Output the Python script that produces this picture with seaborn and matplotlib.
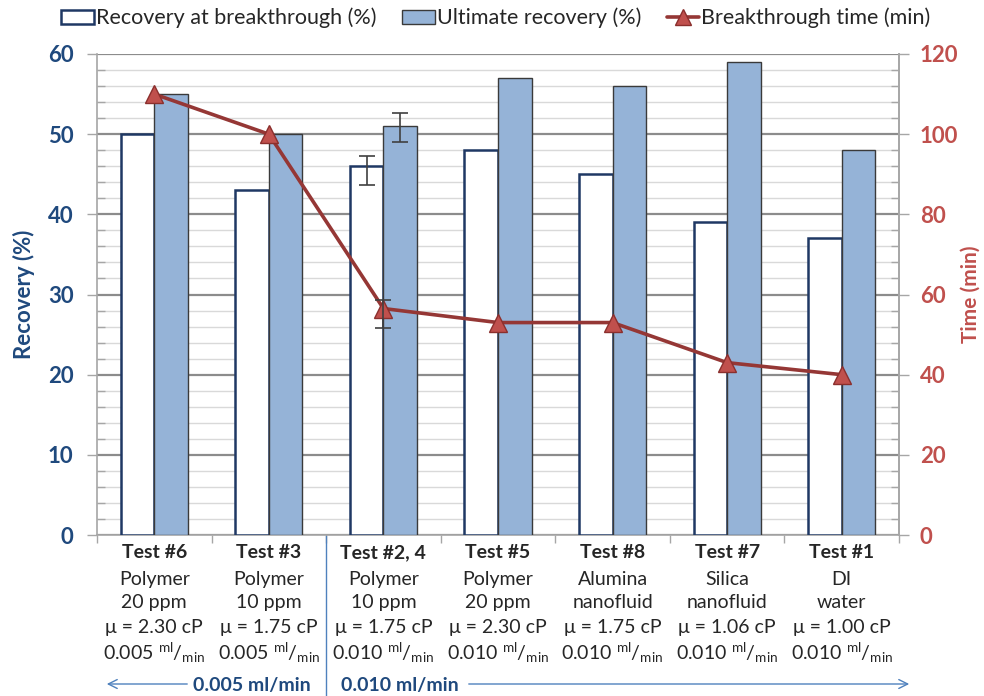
import numpy as np
import pandas as pd
import matplotlib
matplotlib.use("Agg")
import matplotlib.pyplot as plt
from matplotlib.patches import Patch, FancyArrowPatch
from matplotlib.lines import Line2D
from matplotlib.ticker import MultipleLocator
import seaborn as sns

# ---------------- data ----------------
tests = ["Test #6", "Test #3", "Test #2, 4", "Test #5", "Test #8", "Test #7", "Test #1"]
fluid = ["Polymer", "Polymer", "Polymer", "Polymer", "Alumina", "Silica", "DI"]
detail = ["20 ppm", "10 ppm", "10 ppm", "20 ppm", "nanofluid", "nanofluid", "water"]
viscosity = ["2.30", "1.75", "1.75", "2.30", "1.75", "1.06", "1.00"]
rates = ["0.005", "0.005", "0.010", "0.010", "0.010", "0.010", "0.010"]

recovery_bt = [50, 43, 46, 48, 45, 39, 37]
recovery_ult = [55, 50, 51, 57, 56, 59, 48]
bt_time = [110, 100, 56.5, 53, 53, 43, 40]

# error bars (only Test #2, 4)
err_index = 2
bt_err = [2.4, 1.3]      # lower, upper
ult_err = [2.0, 1.6]
time_err = [4.8, 2.1]

series_names = ["Recovery at breakthrough (%)", "Ultimate recovery (%)", "Breakthrough time (min)"]

# ---------------- style ----------------
sns.set_theme(style="white")
plt.rcParams["font.family"] = ["Lato", "DejaVu Sans"]
plt.rcParams["mathtext.fontset"] = "custom"
plt.rcParams["mathtext.rm"] = "Lato"
plt.rcParams["mathtext.it"] = "Lato"

navy = "#1f497d"
red = "#c0504d"
line_red = "#953735"
blue_fill = "#95b3d7"
grey_axis = "#a6a6a6"
txt = "#262626"

fig = plt.figure(figsize=(9.84, 6.96), dpi=100)
ax = fig.add_axes([97 / 984, (696 - 535) / 696, (899 - 97) / 984, (535 - 54) / 696])

df = pd.DataFrame({
    "Test": tests * 2,
    "Measure": [series_names[0]] * len(tests) + [series_names[1]] * len(tests),
    "Value": recovery_bt + recovery_ult,
})

sns.barplot(data=df, x="Test", y="Value", hue="Measure", order=tests,
            hue_order=series_names[:2],
            palette={series_names[0]: "white", series_names[1]: blue_fill},
            width=0.585, saturation=1, gap=0, legend=False, ax=ax, zorder=3)

n = len(tests)
bars = list(ax.patches)
for i, p in enumerate(bars):
    if i < n:
        p.set_edgecolor("#1f3864")
        p.set_linewidth(1.8)
    else:
        p.set_edgecolor("#3a3a3a")
        p.set_linewidth(1.0)

# error bars on bars
p_bt = bars[err_index]
p_ult = bars[n + err_index]
ax.errorbar([p_bt.get_x() + p_bt.get_width() / 2], [recovery_bt[err_index]],
            yerr=[[bt_err[0]], [bt_err[1]]], fmt="none", ecolor="#404040",
            elinewidth=1.2, capsize=5.5, capthick=1.2, zorder=5)
ax.errorbar([p_ult.get_x() + p_ult.get_width() / 2], [recovery_ult[err_index]],
            yerr=[[ult_err[0]], [ult_err[1]]], fmt="none", ecolor="#404040",
            elinewidth=1.2, capsize=5.5, capthick=1.2, zorder=5)

ax.set_xlim(-0.5, n - 0.5)
ax.set_ylim(0, 60)
ax.yaxis.set_major_locator(MultipleLocator(10))
ax.yaxis.set_minor_locator(MultipleLocator(2))
ax.grid(which="major", axis="y", color="#8c8c8c", linewidth=1.6)
ax.grid(which="minor", axis="y", color="#d9d9d9", linewidth=1.0)
ax.grid(which="major", axis="x", visible=False)
ax.set_axisbelow(True)

ax.tick_params(axis="y", which="major", direction="out", length=7, width=1,
               color=grey_axis, labelcolor=navy, labelsize=16, pad=10)
ax.tick_params(axis="y", which="minor", direction="in", length=6, width=1,
               color=grey_axis, left=True)
for lab in ax.get_yticklabels():
    lab.set_fontweight("bold")

ax.set_xticks(np.arange(-0.5, n, 1.0))
ax.set_xticklabels([])
ax.tick_params(axis="x", which="major", direction="out", length=6, width=1,
               color=grey_axis, bottom=True)
ax.set_xlabel("")
ax.set_ylabel("Recovery (%)", color=navy, fontsize=16, fontweight="bold", labelpad=9)

ax.spines["top"].set_visible(False)
for s in ["left", "bottom", "right"]:
    ax.spines[s].set_color(grey_axis)
    ax.spines[s].set_linewidth(1.2)

# ---------------- secondary axis ----------------
ax2 = ax.twinx()
xpos = np.arange(n)
sns.lineplot(x=xpos, y=bt_time, ax=ax2, color=line_red, linewidth=2.6,
             marker="^", markersize=13, markerfacecolor=red,
             markeredgecolor="#8b2f2d", markeredgewidth=1.0, sort=False,
             legend=False, zorder=6)
ax2.errorbar([xpos[err_index]], [bt_time[err_index]],
             yerr=[[time_err[0]], [time_err[1]]], fmt="none", ecolor="#404040",
             elinewidth=1.2, capsize=5.5, capthick=1.2, zorder=7)
ax2.set_ylim(0, 120)
ax2.yaxis.set_major_locator(MultipleLocator(20))
ax2.yaxis.set_minor_locator(MultipleLocator(4))
ax2.tick_params(axis="y", which="major", direction="out", length=7, width=1,
                color=grey_axis, labelcolor=red, labelsize=16, pad=8)
ax2.tick_params(axis="y", which="minor", direction="in", length=6, width=1,
                color=grey_axis, right=True)
for lab in ax2.get_yticklabels():
    lab.set_fontweight("bold")
ax2.set_ylabel("Time (min)", color=red, fontsize=15, fontweight="bold", labelpad=2)
ax2.grid(False)
for s in ["top", "left", "bottom"]:
    ax2.spines[s].set_visible(False)
ax2.spines["right"].set_color(grey_axis)
ax2.spines["right"].set_linewidth(1.2)
ax2.set_xlim(-0.5, n - 0.5)

# ---------------- category labels ----------------
tr = ax.get_xaxis_transform()
line_y = [-0.0374, -0.0915, -0.141, -0.193, -0.245]
for i in range(n):
    lines = [tests[i], fluid[i], detail[i], "\u03bc = " + viscosity[i] + " cP",
             rates[i] + r" $^{\mathrm{ml}}\mathrm{/}_{\mathrm{min}}$"]
    for j, t in enumerate(lines):
        ax.text(i, line_y[j], t, transform=tr, ha="center", va="center",
                fontsize=14, color=txt, fontweight="bold" if j == 0 else "normal",
                clip_on=False)

# divider between flow rates
ax.plot([1.5, 1.5], [0, -0.335], transform=tr, color="#4f81bd", linewidth=1.0,
        clip_on=False)

# flow rate arrows
def fx(px):
    return px / 984

def fy(py):
    return 1 - py / 696

fig.text(fx(252), fy(685), "0.005 ml/min", ha="center", va="center",
         fontsize=14, fontweight="bold", color=navy)
fig.text(fx(400), fy(685), "0.010 ml/min", ha="center", va="center",
         fontsize=14, fontweight="bold", color=navy)
fig.add_artist(FancyArrowPatch(
    (fx(190), fy(684)), (fx(104), fy(684)), transform=fig.transFigure,
    arrowstyle="->", mutation_scale=16, color="#4f81bd", linewidth=1.0))
fig.add_artist(FancyArrowPatch(
    (fx(466), fy(684)), (fx(912), fy(684)), transform=fig.transFigure,
    arrowstyle="->", mutation_scale=16, color="#4f81bd", linewidth=1.0))

# ---------------- legend ----------------
handles = [
    Patch(facecolor="white", edgecolor="#1f3864", linewidth=1.8),
    Patch(facecolor=blue_fill, edgecolor="#3a3a3a", linewidth=1.0),
    Line2D([0], [0], color=line_red, linewidth=2.6, marker="^", markersize=11,
           markerfacecolor=red, markeredgecolor="#8b2f2d"),
]
fig.legend(handles, series_names, loc="center", bbox_to_anchor=(fx(496), fy(18)),
           ncol=3, frameon=False, fontsize=15.5, handlelength=1.5, handleheight=0.6,
           handletextpad=0.1, columnspacing=1.2, labelcolor=txt,
           borderaxespad=0, borderpad=0)

fig.savefig("out.png", dpi=100)
